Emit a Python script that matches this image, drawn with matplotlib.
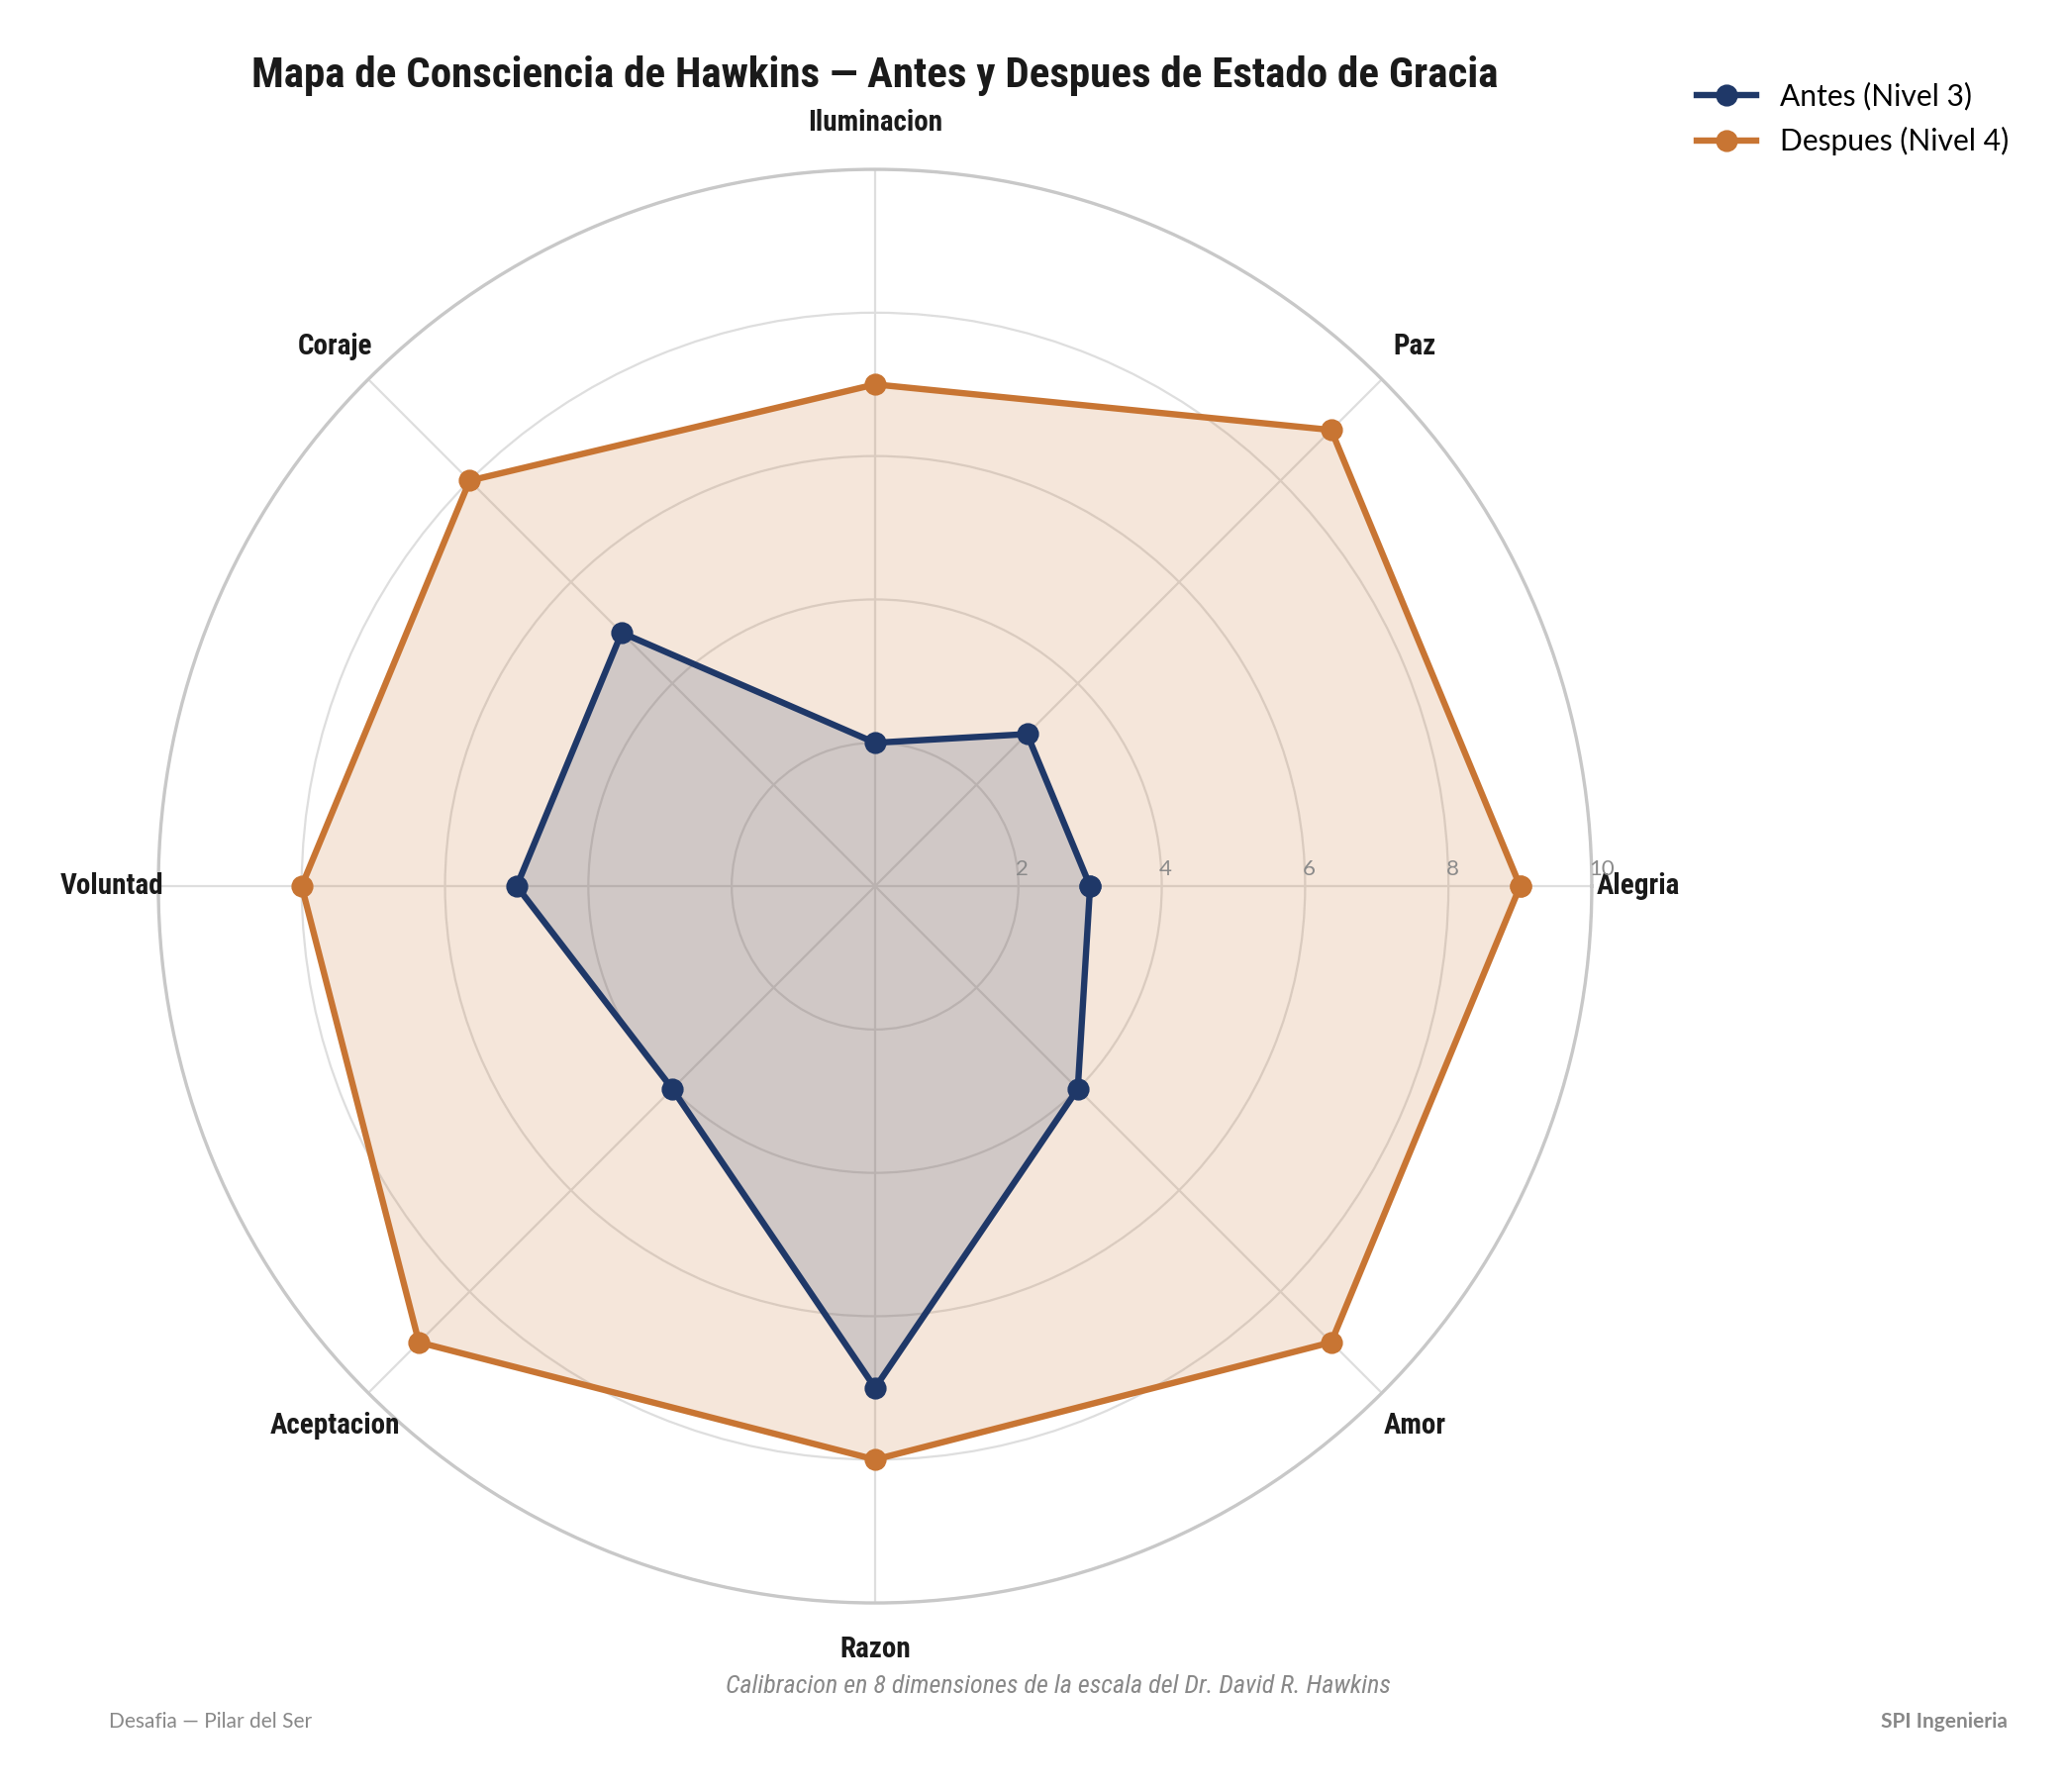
import matplotlib.pyplot as plt
import numpy as np
from matplotlib import font_manager
from matplotlib.transforms import offset_copy

categorias = ["Alegria", "Paz", "Iluminacion", "Coraje", "Voluntad", "Aceptacion", "Razon", "Amor"]
antes = [3, 3, 2, 5, 5, 4, 7, 4]
despues = [9, 9, 7, 8, 8, 9, 8, 9]
niveles = [2, 4, 6, 8, 10]

azul = "#1f3868"
naranja = "#c87533"
instaladas = {f.name for f in font_manager.fontManager.ttflist}
narrow = ["Roboto Condensed", "DejaVu Sans"] if "Roboto Condensed" in instaladas else ["Roboto", "DejaVu Sans"]
normal = ["Lato", "DejaVu Sans"]

ang = np.arange(len(categorias)) * 2 * np.pi / len(categorias)
ang_c = np.append(ang, ang[0])

fig = plt.figure(figsize=(10.44, 9.05), dpi=200)
ax = fig.add_axes([0.0766, 0.1055, 0.6935, 0.8], projection="polar")
ax.set_ylim(0, 10)

ax.fill(ang_c, despues + despues[:1], color=naranja, alpha=0.18, zorder=2, lw=0)
ax.plot(ang_c, despues + despues[:1], color=naranja, lw=2.3, marker="o", ms=7,
        label="Despues (Nivel 4)", zorder=4)
ax.fill(ang_c, antes + antes[:1], color=azul, alpha=0.17, zorder=3, lw=0)
ax.plot(ang_c, antes + antes[:1], color=azul, lw=2.3, marker="o", ms=7,
        label="Antes (Nivel 3)", zorder=5)

ax.set_xticks(ang)
ax.set_xticklabels([])
ax.set_yticks(niveles)
ax.set_yticklabels([])
ax.grid(color="#dedede", lw=0.8)
ax.spines["polar"].set_color("#c8c8c8")
ax.spines["polar"].set_linewidth(1.2)
ax.tick_params(length=0)

for a, c in zip(ang, categorias):
    ax.text(a, 10.65, c, ha="center", va="center", fontsize=10.5, fontweight="bold",
            family=narrow, color="#1a1a1a")
tr = offset_copy(ax.transData, fig=fig, x=-1, y=2.5, units="points")
for n in niveles:
    ax.text(0, n, str(n), ha="left", va="bottom", fontsize=8, transform=tr,
            family=normal, color="#8a8a8a")

fig.text(0.4234, 0.958, "Mapa de Consciencia de Hawkins — Antes y Despues de Estado de Gracia",
         ha="center", va="center", fontsize=15.5, fontweight="bold", family=narrow, color="#1a1a1a")

h, l = ax.get_legend_handles_labels()
fig.legend(h[::-1], l[::-1], loc="upper left", bbox_to_anchor=(0.808, 0.969), frameon=False,
           prop={"family": normal, "size": 10.8}, handlelength=2.0, labelspacing=0.55)

fig.text(0.512, 0.059, "Calibracion en 8 dimensiones de la escala del Dr. David R. Hawkins",
         ha="center", va="center", fontsize=9.4, style="italic", family=narrow, color="#888888")
fig.text(0.0527, 0.039, "Desafia — Pilar del Ser", ha="left", va="center", fontsize=7.5,
         family=normal, color="#888888")
fig.text(0.971, 0.039, "SPI Ingenieria", ha="right", va="center", fontsize=7.5,
         fontweight="bold", family=normal, color="#888888")

fig.savefig("out.png", dpi=200)
